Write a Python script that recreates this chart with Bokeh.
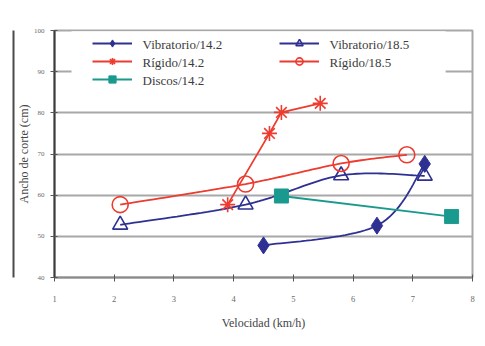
from bokeh.plotting import figure
from bokeh.models import Range1d, FixedTicker, Legend, LegendItem, LinearAxis
from bokeh.core.properties import value
from bokeh.embed import file_html
from bokeh.resources import INLINE

# ---- data ----
vib142_x = [4.5, 6.4, 7.2]
vib142_y = [47.8, 52.6, 67.6]
vib185_x = [2.1, 4.2, 5.8, 7.2]
vib185_y = [52.8, 57.7, 64.8, 64.7]
rig142_x = [3.9, 4.6, 4.8, 5.45]
rig142_y = [57.7, 75.0, 80.1, 82.3]
rig185_x = [2.1, 4.2, 5.8, 6.9]
rig185_y = [57.7, 62.7, 67.7, 69.8]
dis142_x = [4.8, 7.65]
dis142_y = [59.8, 54.8]

x_ticks = [1, 2, 3, 4, 5, 6, 7, 8]
y_ticks = [40, 50, 60, 70, 80, 90, 100]

left_names = ["Vibratorio/14.2", "Rígido/14.2", "Discos/14.2"]
right_names = ["Vibratorio/18.5", "Rígido/18.5"]

NAVY = "#2e3192"
RED = "#ee3b2f"
TEAL = "#1a9a8e"
FONT = "Liberation Serif"

# legend layout (style positions, in axis units)
LEG_TEXT_X = [2.474, 5.606]
LEG_TEXT_Y = [96.6, 92.2, 87.85]
LEG_BOX = dict(left=[1.285], right=[7.55], bottom=[84.6], top=[99.8])


def smooth(xs, ys, n=24):
    """Excel-like smoothed line (Catmull-Rom as cubic Bezier) through data points."""
    pts = list(zip(xs, ys))
    m = len(pts)
    ox, oy = [pts[0][0]], [pts[0][1]]
    for i in range(m - 1):
        p0 = pts[i - 1] if i > 0 else pts[i]
        p1 = pts[i]
        p2 = pts[i + 1]
        p3 = pts[i + 2] if i + 2 < m else pts[i + 1]
        c1 = (p1[0] + (p2[0] - p0[0]) / 6, p1[1] + (p2[1] - p0[1]) / 6)
        c2 = (p2[0] - (p3[0] - p1[0]) / 6, p2[1] - (p3[1] - p1[1]) / 6)
        for k in range(1, n + 1):
            t = k / n
            a = (1 - t) ** 3
            b = 3 * (1 - t) ** 2 * t
            c = 3 * (1 - t) * t ** 2
            d = t ** 3
            ox.append(a * p1[0] + b * c1[0] + c * c2[0] + d * p2[0])
            oy.append(a * p1[1] + b * c1[1] + c * c2[1] + d * p2[1])
    return ox, oy


p = figure(width=477, height=338, output_backend="svg", toolbar_location=None,
           x_range=Range1d(1, 8), y_range=Range1d(40, 100),
           min_border_left=54, min_border_right=5, min_border_top=30,
           min_border_bottom=61)

p.outline_line_color = "#a8a8a8"
p.outline_line_width = 2
p.xgrid.visible = False
p.ygrid.grid_line_color = "#a8a8a8"
p.ygrid.grid_line_width = 2

p.xaxis.ticker = FixedTicker(ticks=x_ticks)
p.yaxis.ticker = FixedTicker(ticks=y_ticks)
for ax in (p.xaxis, p.yaxis):
    ax.minor_tick_line_color = None
    ax.major_label_text_font = FONT
    ax.major_label_text_color = "#6a6a6a"
    ax.axis_label_text_font = FONT
    ax.axis_label_text_font_style = "normal"
    ax.axis_label_text_color = "#444444"
    ax.axis_label_text_font_size = "12px"
    ax.major_tick_line_color = "#555555"
    ax.major_tick_in = 3
    ax.major_tick_out = 4
p.yaxis.axis_line_color = "#3a3a3a"
p.yaxis.axis_line_width = 2
p.xaxis.axis_line_color = "#8a8a8a"
p.xaxis.axis_line_width = 2
p.yaxis.major_label_text_font_size = "7px"
p.xaxis.major_label_text_font_size = "8.5px"
p.yaxis.major_label_standoff = 6
p.xaxis.major_label_standoff = 14
p.xaxis.axis_label = "Velocidad (km/h)"
p.yaxis.axis_label = "Ancho de corte (cm)"
p.xaxis.axis_label_standoff = 11
p.yaxis.axis_label_standoff = 0


def bare_axis(gap, line_color=None):
    return LinearAxis(ticker=FixedTicker(ticks=[]), axis_line_color=line_color,
                      axis_line_width=2, major_tick_line_color=None,
                      minor_tick_line_color=None, major_tick_in=0,
                      major_tick_out=gap, minor_tick_in=0, minor_tick_out=0,
                      major_label_standoff=0, major_label_text_font_size="0px")


# outer figure frame (dark line at the left), via empty stacked axes
p.add_layout(bare_axis(8), "left")
p.add_layout(bare_axis(0, "#4a4a4a"), "left")

# white legend background hiding the 90 gridline
p.quad(**LEG_BOX, fill_color="white", line_color=None)

lw = 1.8
# Vibratorio/14.2
sx, sy = smooth(vib142_x, vib142_y)
l1 = p.line(sx, sy, line_color=NAVY, line_width=lw)
m1 = p.scatter(vib142_x, vib142_y, marker="diamond", size=17,
               fill_color=NAVY, line_color=NAVY)
# Vibratorio/18.5
sx, sy = smooth(vib185_x, vib185_y)
l2 = p.line(sx, sy, line_color=NAVY, line_width=lw)
m2 = p.scatter(vib185_x, vib185_y, marker="triangle", size=15,
               fill_color="white", fill_alpha=0, line_color=NAVY, line_width=1.6)
# Rigido/14.2
l3 = p.line(rig142_x, rig142_y, line_color=RED, line_width=lw)
m3 = p.scatter(rig142_x, rig142_y, marker="asterisk", size=15,
               line_color=RED, line_width=1.6)
# Rigido/18.5
sx, sy = smooth(rig185_x, rig185_y)
l4 = p.line(sx, sy, line_color=RED, line_width=lw)
m4 = p.scatter(rig185_x, rig185_y, marker="circle", size=16,
               fill_color="white", fill_alpha=0, line_color=RED, line_width=1.6)
# Discos/14.2
l5 = p.line(dis142_x, dis142_y, line_color=TEAL, line_width=lw)
m5 = p.scatter(dis142_x, dis142_y, marker="square", size=14,
               fill_color=TEAL, line_color=TEAL)

# legend texts as serif text glyphs
p.text(x=[LEG_TEXT_X[0]] * len(left_names), y=LEG_TEXT_Y[:len(left_names)],
       text=left_names, text_font=value(FONT), text_font_size="13px",
       text_color="#3c3c3c", text_baseline="middle", text_align="left")
p.text(x=[LEG_TEXT_X[1]] * len(right_names), y=LEG_TEXT_Y[:len(right_names)],
       text=right_names, text_font=value(FONT), text_font_size="13px",
       text_color="#3c3c3c", text_baseline="middle", text_align="left")


def make_legend(items, loc):
    return Legend(items=items, location=loc, orientation="vertical",
                  background_fill_alpha=0, border_line_color=None,
                  margin=0, padding=5, spacing=0,
                  glyph_width=40, glyph_height=18, label_height=18,
                  label_standoff=5, label_text_font_size="1px",
                  label_text_color="white", label_text_alpha=0)


leg_left = make_legend([LegendItem(label=" ", renderers=r) for r in
                        [[l1, m1], [l3, m3], [l5, m5]]], (38, 189))
leg_right = make_legend([LegendItem(label=" ", renderers=r) for r in
                         [[l2, m2], [l4, m4]]], (225, 207))
p.add_layout(leg_left)
p.add_layout(leg_right)

open("out.html", "w").write(file_html(p, INLINE))
